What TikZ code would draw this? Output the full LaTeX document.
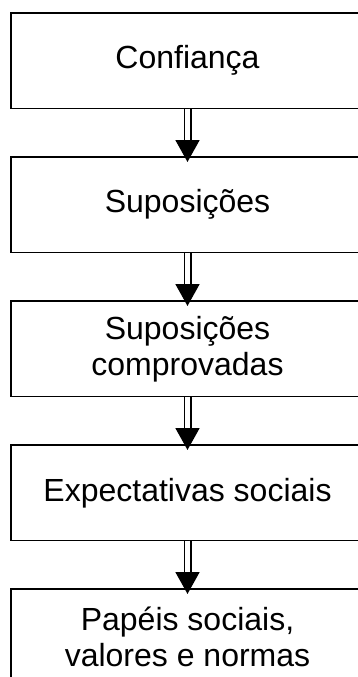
\documentclass[tikz,border=0pt]{standalone}
\usepackage{fontspec}
\setmainfont{Liberation Sans}
\usetikzlibrary{positioning,arrows.meta}

\begin{document}
\begin{tikzpicture}[x=1pt,y=1pt,
        stage/.style={draw, line width=1.3pt, minimum width=353pt, minimum height=95.5pt,
            inner sep=0pt, outer sep=0pt, align=center, font=\fontsize{32}{36}\selectfont},
        flow/.style={double, double distance=4.4pt, line width=1.8pt,
            -{Triangle[width=24pt,length=22pt]}, shorten >=-5pt},
        node distance=48.5pt]
    % Frame (the boxes run off the right and bottom edge)
    \path[use as bounding box, clip] (0,0) rectangle (358,-677);

    % Stages
    \node[stage] (trust) at (187.5,-60.75) {Confiança};
    \node[stage, below=of trust] (assume) {Suposições};
    \node[stage, below=of assume] (proven) {Suposições\\comprovadas};
    \node[stage, below=of proven] (expect) {Expectativas sociais};
    \node[stage, below=of expect] (roles) {Papéis sociais,\\valores e normas};

    % Arrows
    \draw[flow] (trust) -- (assume);
    \draw[flow] (assume) -- (proven);
    \draw[flow] (proven) -- (expect);
    \draw[flow] (expect) -- (roles);
\end{tikzpicture}
\end{document}
